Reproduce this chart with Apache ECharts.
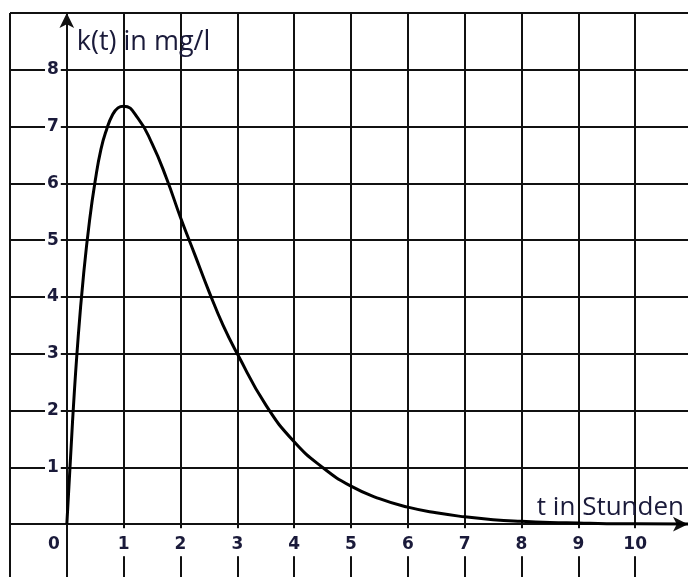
<!DOCTYPE html>
<html>
<head>
<meta charset="utf-8">
<script src="https://cdn.jsdelivr.net/npm/echarts@6/dist/echarts.min.js"></script>
<style>
  html, body { margin: 0; padding: 0; background: #fff; }
  #chart { width: 688px; height: 577px; }
</style>
</head>
<body>
<div id="chart"></div>
<script>
// t in hours and concentration k(t) in mg/l
const hours = [0, 0.1, 0.2, 0.3, 0.4, 0.5, 0.6, 0.7, 0.8, 0.9, 1.0, 1.25, 1.5, 1.75, 2.0, 2.25, 2.5, 2.75,
  3.0, 3.5, 4.0, 4.5, 5.0, 5.5, 6.0, 6.5, 7.0, 7.5, 8.0, 8.5, 9.0, 9.5, 10.0, 11.0]
const concentration = [0, 1.8, 3.3, 4.45, 5.35, 6.05, 6.6, 6.95, 7.2, 7.33, 7.36, 7.15, 6.7, 6.1, 5.4, 4.75, 4.1, 3.5,
  3.0, 2.1, 1.45, 1.0, 0.67, 0.45, 0.3, 0.2, 0.13, 0.08, 0.05, 0.03, 0.02, 0.01, 0.01, 0]

const xTickLabels = ['0', '1', '2', '3', '4', '5', '6', '7', '8', '9', '10']
const yTickLabels = ['1', '2', '3', '4', '5', '6', '7', '8']

const textColor = '#1a1a3a'
const lineColor = '#111'
const tickFont = { fontFamily: 'DejaVu Sans', fontSize: 17, fontWeight: 'bold', color: textColor }

const chart = echarts.init(document.getElementById('chart'))

chart.setOption({
  animation: false,
  backgroundColor: '#fff',
  grid: [
    // full squared paper, one unit beyond the axes on each side
    { left: 10, top: 13, right: -4, bottom: -4, outerBoundsMode: 'none' },
    // first quadrant, carries the visible axes
    { left: 66.8, top: 13, right: 0, bottom: 52.8, outerBoundsMode: 'none' }
  ],
  xAxis: [{
    gridIndex: 0,
    type: 'value',
    min: -1,
    max: 11,
    interval: 1,
    axisLine: { show: false },
    axisTick: { show: false },
    axisLabel: { show: false },
    splitLine: { show: true, lineStyle: { color: lineColor, width: 2 } }
  }, {
    gridIndex: 1,
    type: 'value',
    min: 0,
    max: 10.93,
    interval: 1,
    name: 't in Stunden',
    nameLocation: 'end',
    nameGap: -4,
    nameTextStyle: {
      fontFamily: 'Open Sans',
      fontSize: 26,
      color: textColor,
      align: 'right',
      verticalAlign: 'bottom',
      padding: [0, 0, 4, 0]
    },
    axisLine: {
      onZero: false,
      symbol: ['none', 'arrow'],
      symbolSize: [11, 15],
      lineStyle: { color: lineColor, width: 2 }
    },
    axisTick: { show: false },
    splitLine: { show: false },
    axisLabel: {
      margin: 4,
      showMaxLabel: false,
      formatter: v => {
        const s = String(v)
        if (!xTickLabels.includes(s)) return ''
        return s === '0' ? '{z|' + s + '}' : '{b|' + s + '}'
      },
      rich: {
        b: Object.assign({ backgroundColor: '#fff', padding: [8, 2, 3, 2] }, tickFont),
        z: Object.assign({ padding: [8, 26, 3, 0] }, tickFont)
      }
    }
  }],
  yAxis: [{
    gridIndex: 0,
    type: 'value',
    min: -1,
    max: 9,
    interval: 1,
    axisLine: { show: false },
    axisTick: { show: false },
    axisLabel: { show: false },
    splitLine: { show: true, lineStyle: { color: lineColor, width: 2 } }
  }, {
    gridIndex: 1,
    type: 'value',
    min: 0,
    max: 9,
    interval: 1,
    name: 'k(t) in mg/l',
    nameLocation: 'end',
    nameGap: -16,
    nameTextStyle: {
      fontFamily: 'Open Sans',
      fontSize: 27,
      color: textColor,
      align: 'left',
      verticalAlign: 'top',
      padding: [0, 0, 0, 10]
    },
    axisLine: {
      onZero: false,
      symbol: ['none', 'arrow'],
      symbolSize: [11, 15],
      lineStyle: { color: lineColor, width: 2 }
    },
    axisTick: { show: false },
    splitLine: { show: false },
    axisLabel: Object.assign({
      margin: 6,
      backgroundColor: '#fff',
      padding: [0, 2, 0, 2],
      formatter: v => (yTickLabels.includes(String(v)) ? String(v) : '')
    }, tickFont)
  }],
  series: [{
    type: 'line',
    xAxisIndex: 0,
    yAxisIndex: 0,
    data: hours.map((t, i) => [t, concentration[i]]),
    smooth: true,
    showSymbol: false,
    lineStyle: { color: '#000', width: 3 }
  }]
})
</script>
</body>
</html>
